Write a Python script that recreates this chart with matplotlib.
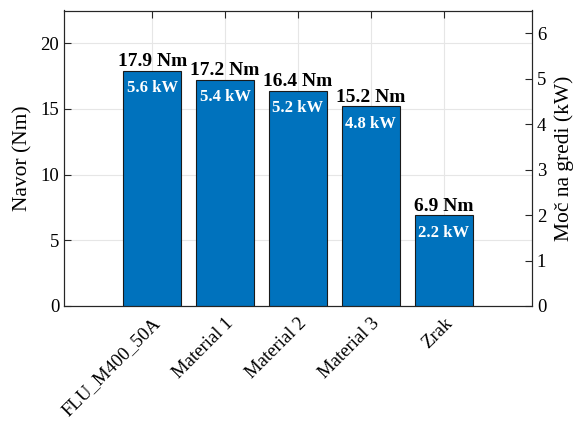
import matplotlib
matplotlib.use("Agg")
import matplotlib.pyplot as plt
import numpy as np

categories = ["FLU_M400_50A", "Material 1", "Material 2", "Material 3", "Zrak"]
torque_nm = [17.9, 17.2, 16.4, 15.2, 6.9]
power_kw = [5.6, 5.4, 5.2, 4.8, 2.2]

plt.rcParams["font.family"] = ["Liberation Serif", "DejaVu Serif"]

fig = plt.figure(figsize=(5.79, 4.21), dpi=100)
ax = fig.add_axes([64 / 579, 1 - 306 / 421, 468 / 579, 295.5 / 421])

x = np.arange(1, len(categories) + 1)
bars = ax.bar(x, torque_nm, width=0.8, color="#0072BD", edgecolor="#1a1a1a",
              linewidth=0.8, zorder=3)

ax.set_xlim(1 - 1.21, len(categories) + 1.21)
ax.set_ylim(0, 22.5)
ax.set_yticks([0, 5, 10, 15, 20])
ax.set_xticks(x)
ax.set_xticklabels(categories, rotation=45, ha="right", rotation_mode="anchor",
                   fontsize=13.5)
ax.tick_params(axis="both", direction="in", length=5, width=0.8,
               labelsize=13.5, top=True, color="#262626")
ax.tick_params(axis="x", pad=6)
ax.grid(True, color="#e6e6e6", linewidth=0.8, zorder=0)
ax.set_axisbelow(True)
ax.set_ylabel("Navor (Nm)", fontsize=15.5, labelpad=6)
for s in ax.spines.values():
    s.set_color("#262626")
    s.set_linewidth(0.8)

for xi, t, p in zip(x, torque_nm, power_kw):
    ax.text(xi, t + 0.05, f"{t:.1f} Nm", ha="center", va="bottom",
            fontsize=14, fontweight="bold", color="black", zorder=4)
    ax.text(xi, t - 0.7, f"{p:.1f} kW", ha="center", va="top",
            fontsize=12, fontweight="bold", color="white", zorder=4)

ax2 = ax.twinx()
ax2.set_ylim(0, 6.5)
ax2.set_yticks(range(0, 7))
ax2.tick_params(axis="y", direction="in", length=5, width=0.8, labelsize=13.5,
                color="#262626")
ax2.set_ylabel("Moč na gredi (kW)", fontsize=15.5, labelpad=6)
for s in ax2.spines.values():
    s.set_color("#262626")
    s.set_linewidth(0.8)

fig.savefig("out.png", dpi=100)
